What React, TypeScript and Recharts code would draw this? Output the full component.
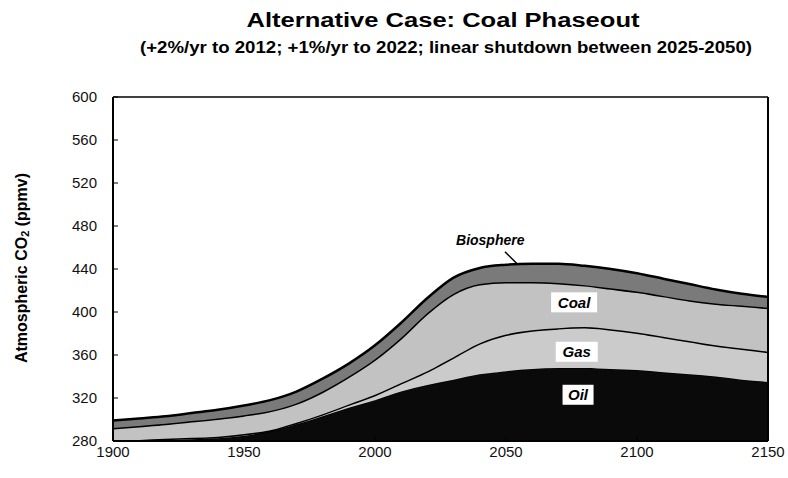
import React from 'react';
import { AreaChart, Area, XAxis, YAxis, ReferenceLine, ReferenceDot } from 'recharts';

// ppmv contributed by each source above the pre-industrial level
const years = [1900, 1910, 1920, 1930, 1940, 1950, 1960, 1970, 1980, 1990, 2000, 2010, 2020, 2030, 2040, 2050, 2060, 2070, 2080, 2090, 2100, 2110, 2120, 2130, 2140, 2150];
const oil = [0, 0.3, 1, 1.7, 2.5, 5, 9, 15.5, 23, 31, 38, 46, 52, 57, 62, 65, 67, 68, 68, 67, 66, 64, 62, 60, 57, 55];
const gas = [0.5, 0.7, 1, 1.3, 1.5, 1.5, 1, 1.5, 2, 3, 5, 8, 13, 21, 29, 34, 36, 37, 38, 37, 35, 33, 31, 29, 29, 28];
const coal = [11.5, 13, 14, 15.5, 17, 17.5, 18, 18, 21, 26, 33, 42, 54, 59, 55, 49, 45, 42, 39, 38, 38, 38, 38, 39, 40, 41];
const biosphere = [7, 7, 7, 7.5, 8, 9, 10, 11, 12, 12, 13, 14, 14, 15, 15, 16, 17, 18, 18, 18, 17, 16, 15, 13, 11, 10];

const PREINDUSTRIAL = 280;
const xTicks = [1900, 1950, 2000, 2050, 2100, 2150];
const yTicks = [280, 320, 360, 400, 440, 480, 520, 560, 600];

const data = years.map((year, i) => ({
  year,
  base: PREINDUSTRIAL,
  oil: oil[i],
  gas: gas[i],
  coal: coal[i],
  biosphere: biosphere[i],
}));

const FONT = '"Liberation Sans", Arial, sans-serif';

const boxLabel = (text: string, w: number) => (props: any) => (
  <g>
    <rect x={props.cx - w / 2} y={props.cy - 10} width={w} height={20} fill="#fff" />
    <text x={props.cx} y={props.cy} textAnchor="middle" dominantBaseline="central"
      fontFamily={FONT} fontSize={15} fontWeight="bold" fontStyle="italic" fill="#000">
      {text}
    </text>
  </g>
);

const plainLabel = (text: string) => (props: any) => (
  <text x={props.cx} y={props.cy} textAnchor="middle" dominantBaseline="central"
    fontFamily={FONT} fontSize={14} fontWeight="bold" fontStyle="italic" fill="#000">
    {text}
  </text>
);

const tickStyle = { fontFamily: FONT, fontSize: 15, fill: '#111' };

export default function App() {
  return (
    <div style={{ position: 'absolute', left: 0, top: 0, width: 788, height: 478, background: '#fff' }}>
      <AreaChart width={788} height={478} data={data} margin={{ top: 97, right: 20, bottom: 0, left: 0 }}>
        <XAxis dataKey="year" type="number" domain={[1900, 2150]} ticks={xTicks} interval={0}
          height={37} tick={tickStyle} tickSize={-5} tickMargin={10}
          axisLine={{ stroke: '#000', strokeWidth: 2 }} tickLine={{ stroke: '#000' }} />
        <YAxis type="number" domain={[280, 600]} ticks={yTicks} interval={0} allowDataOverflow
          width={113} tick={tickStyle} tickSize={-5} tickMargin={21}
          axisLine={{ stroke: '#000', strokeWidth: 2 }} tickLine={{ stroke: '#000' }} />
        <ReferenceLine y={600} stroke="#000" strokeWidth={1.5} />
        <ReferenceLine x={2150} stroke="#000" strokeWidth={2} />
        <Area dataKey="base" stackId="1" type="monotone" stroke="none" fill="none" isAnimationActive={false} />
        <Area dataKey="oil" stackId="1" type="monotone" stroke="#000" strokeWidth={1.5} fill="#0a0a0a" fillOpacity={1} isAnimationActive={false} />
        <Area dataKey="gas" stackId="1" type="monotone" stroke="#000" strokeWidth={3} fill="#cbcbcb" fillOpacity={1} isAnimationActive={false} />
        <Area dataKey="coal" stackId="1" type="monotone" stroke="#000" strokeWidth={3} fill="#c2c2c2" fillOpacity={1} isAnimationActive={false} />
        <Area dataKey="biosphere" stackId="1" type="monotone" stroke="#000" strokeWidth={2.5} fill="#7a7a7a" fillOpacity={1} isAnimationActive={false} />
        <ReferenceLine segment={[{ x: 2049.6, y: 456 }, { x: 2054.6, y: 444 }]} stroke="#000" strokeWidth={1.5} />
        <ReferenceDot x={2044} y={467} r={0} shape={plainLabel('Biosphere')} />
        <ReferenceDot x={2076} y={409} r={0} shape={boxLabel('Coal', 46)} />
        <ReferenceDot x={2077} y={363} r={0} shape={boxLabel('Gas', 42)} />
        <ReferenceDot x={2077.5} y={323} r={0} shape={boxLabel('Oil', 31)} />
      </AreaChart>
      <svg width={788} height={478} style={{ position: 'absolute', left: 0, top: 0, pointerEvents: 'none' }}>
        <text x={443} y={27} textAnchor="middle" fontFamily={FONT} fontSize={20} fontWeight="bold" fill="#000"
          textLength={393} lengthAdjust="spacingAndGlyphs">
          Alternative Case: Coal Phaseout
        </text>
        <text x={446} y={53} textAnchor="middle" fontFamily={FONT} fontSize={16} fontWeight="bold" fill="#000"
          textLength={612} lengthAdjust="spacingAndGlyphs">
          (+2%/yr to 2012; +1%/yr to 2022; linear shutdown between 2025-2050)
        </text>
        <text x={21} y={268} transform="rotate(-90 21 268)" textAnchor="middle" dominantBaseline="central"
          fontFamily={FONT} fontSize={16} fontWeight="bold" fill="#000">
          Atmospheric CO<tspan fontSize={11} dy={4}>2</tspan><tspan dy={-4}> (ppmv)</tspan>
        </text>
      </svg>
    </div>
  );
}
